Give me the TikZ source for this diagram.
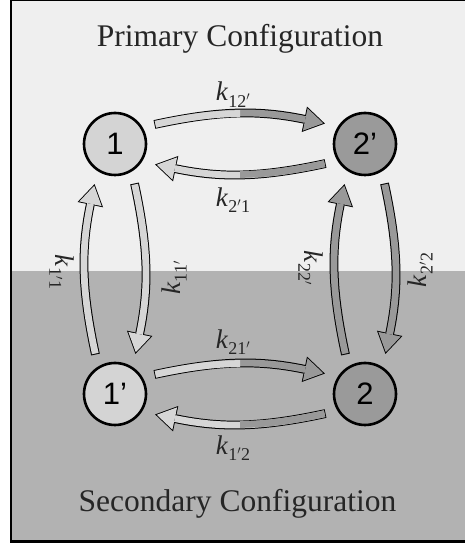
\documentclass[tikz,border=0pt]{standalone}
\usepackage{fontspec}
\setmainfont{Liberation Serif}
\newfontfamily\digitfont{Liberation Sans}
\usetikzlibrary{arrows.meta}
\definecolor{bgtop}{HTML}{EFEFEF}
\definecolor{bgbot}{HTML}{B2B2B2}
\definecolor{nodeL}{HTML}{D4D4D4}
\definecolor{nodeD}{HTML}{9A9A9A}
\definecolor{arrL}{HTML}{D6D6D6}
\definecolor{arrD}{HTML}{999999}
\definecolor{ink}{HTML}{262626}
\newcommand{\kl}[1]{\textit{k}\kern0.3pt\raisebox{-6.5pt}{\fontsize{18}{18}\selectfont #1}}
\tikzset{
  state/.style={circle, draw=black, line width=2.6pt, minimum size=62pt, inner sep=0pt, outer sep=14pt,
    font=\digitfont\fontsize{31}{31}\selectfont},
  title/.style={font=\fontsize{31.5}{31.5}\selectfont, text=ink, inner sep=0pt},
  klab/.style={font=\fontsize{27}{27}\selectfont, text=ink, inner sep=0pt},
  outl/.style={line width=8.8pt, draw=black, shorten <=-1pt,
    -{Triangle[length=21pt,width=26pt,line width=0pt]}},
  innr/.style={line width=6.8pt, draw=#1, shorten >=1.7pt,
    -{Triangle[length=18.4pt,width=22.8pt,line width=0pt,fill=#1]}},
  half/.style={line width=6.8pt, draw=#1},
  bl/.style={bend left=12}
}
\begin{document}
\begin{tikzpicture}[x=1pt,y=1pt]
\useasboundingbox (0,0) rectangle (464,546);
\fill[bgtop] (11,275) rectangle (466,546);
\fill[bgbot] (11,4.5) rectangle (466,275);
\draw[line width=2.2pt] (11,4.5) rectangle (466,546);

\node[title, anchor=base] (t1) at (240,499) {Primary Configuration};
\node[title, anchor=base] (t2) at (237.5,34.3) {Secondary Configuration};

\node[state, fill=nodeL] (n1) at (115,402) {1};
\node[state, fill=nodeD] (n2p) at (365,402) {2’};
\node[state, fill=nodeL] (n1p) at (115,152) {1’};
\node[state, fill=nodeD] (n2) at (365,152) {2};

% 1 -> 2'
\draw[outl] (n1.26.5) to[bl] (n2p.153.5);
\draw[innr=arrD] (n1.26.5) to[bl] (n2p.153.5);
\begin{scope}\clip (0,0) rectangle (240,546);
\draw[half=arrL] (n1.26.5) to[bl] (n2p.153.5);
\end{scope}
% 2' -> 1
\draw[outl] (n2p.206.5) to[bl] (n1.333.5);
\draw[innr=arrL] (n2p.206.5) to[bl] (n1.333.5);
\begin{scope}\clip (240,0) rectangle (464,546);
\draw[half=arrD] (n2p.206.5) to[bl] (n1.333.5);
\end{scope}
% 1' -> 2
\draw[outl] (n1p.26.5) to[bl] (n2.153.5);
\draw[innr=arrD] (n1p.26.5) to[bl] (n2.153.5);
\begin{scope}\clip (0,0) rectangle (240,546);
\draw[half=arrL] (n1p.26.5) to[bl] (n2.153.5);
\end{scope}
% 2 -> 1'
\draw[outl] (n2.206.5) to[bl] (n1p.333.5);
\draw[innr=arrL] (n2.206.5) to[bl] (n1p.333.5);
\begin{scope}\clip (240,0) rectangle (464,546);
\draw[half=arrD] (n2.206.5) to[bl] (n1p.333.5);
\end{scope}
% 1 -> 1'
\draw[outl] (n1.296.5) to[bl] (n1p.63.5);
\draw[innr=arrL] (n1.296.5) to[bl] (n1p.63.5);
% 1' -> 1
\draw[outl] (n1p.116.5) to[bl] (n1.243.5);
\draw[innr=arrL] (n1p.116.5) to[bl] (n1.243.5);
% 2 -> 2'
\draw[outl] (n2.116.5) to[bl] (n2p.243.5);
\draw[innr=arrD] (n2.116.5) to[bl] (n2p.243.5);
% 2' -> 2
\draw[outl] (n2p.296.5) to[bl] (n2.63.5);
\draw[innr=arrD] (n2p.296.5) to[bl] (n2.63.5);

\node[klab] (l12p) at (233,451.5) {\kl{12$'$}};
\node[klab] (l2p1) at (233,346) {\kl{2$'$1}};
\node[klab] (l21p) at (233,204) {\kl{21$'$}};
\node[klab] (l1p2) at (233,98) {\kl{1$'$2}};
\node[klab, rotate=-90] (l1p1) at (62,274) {\kl{1$'$1}};
\node[klab, rotate=90] (l11p) at (174,268) {\kl{11$'$}};
\node[klab, rotate=-90] (l22p) at (311,278) {\kl{22$'$}};
\node[klab, rotate=90] (l2p2) at (420,276) {\kl{2$'$2}};
\end{tikzpicture}
\end{document}
